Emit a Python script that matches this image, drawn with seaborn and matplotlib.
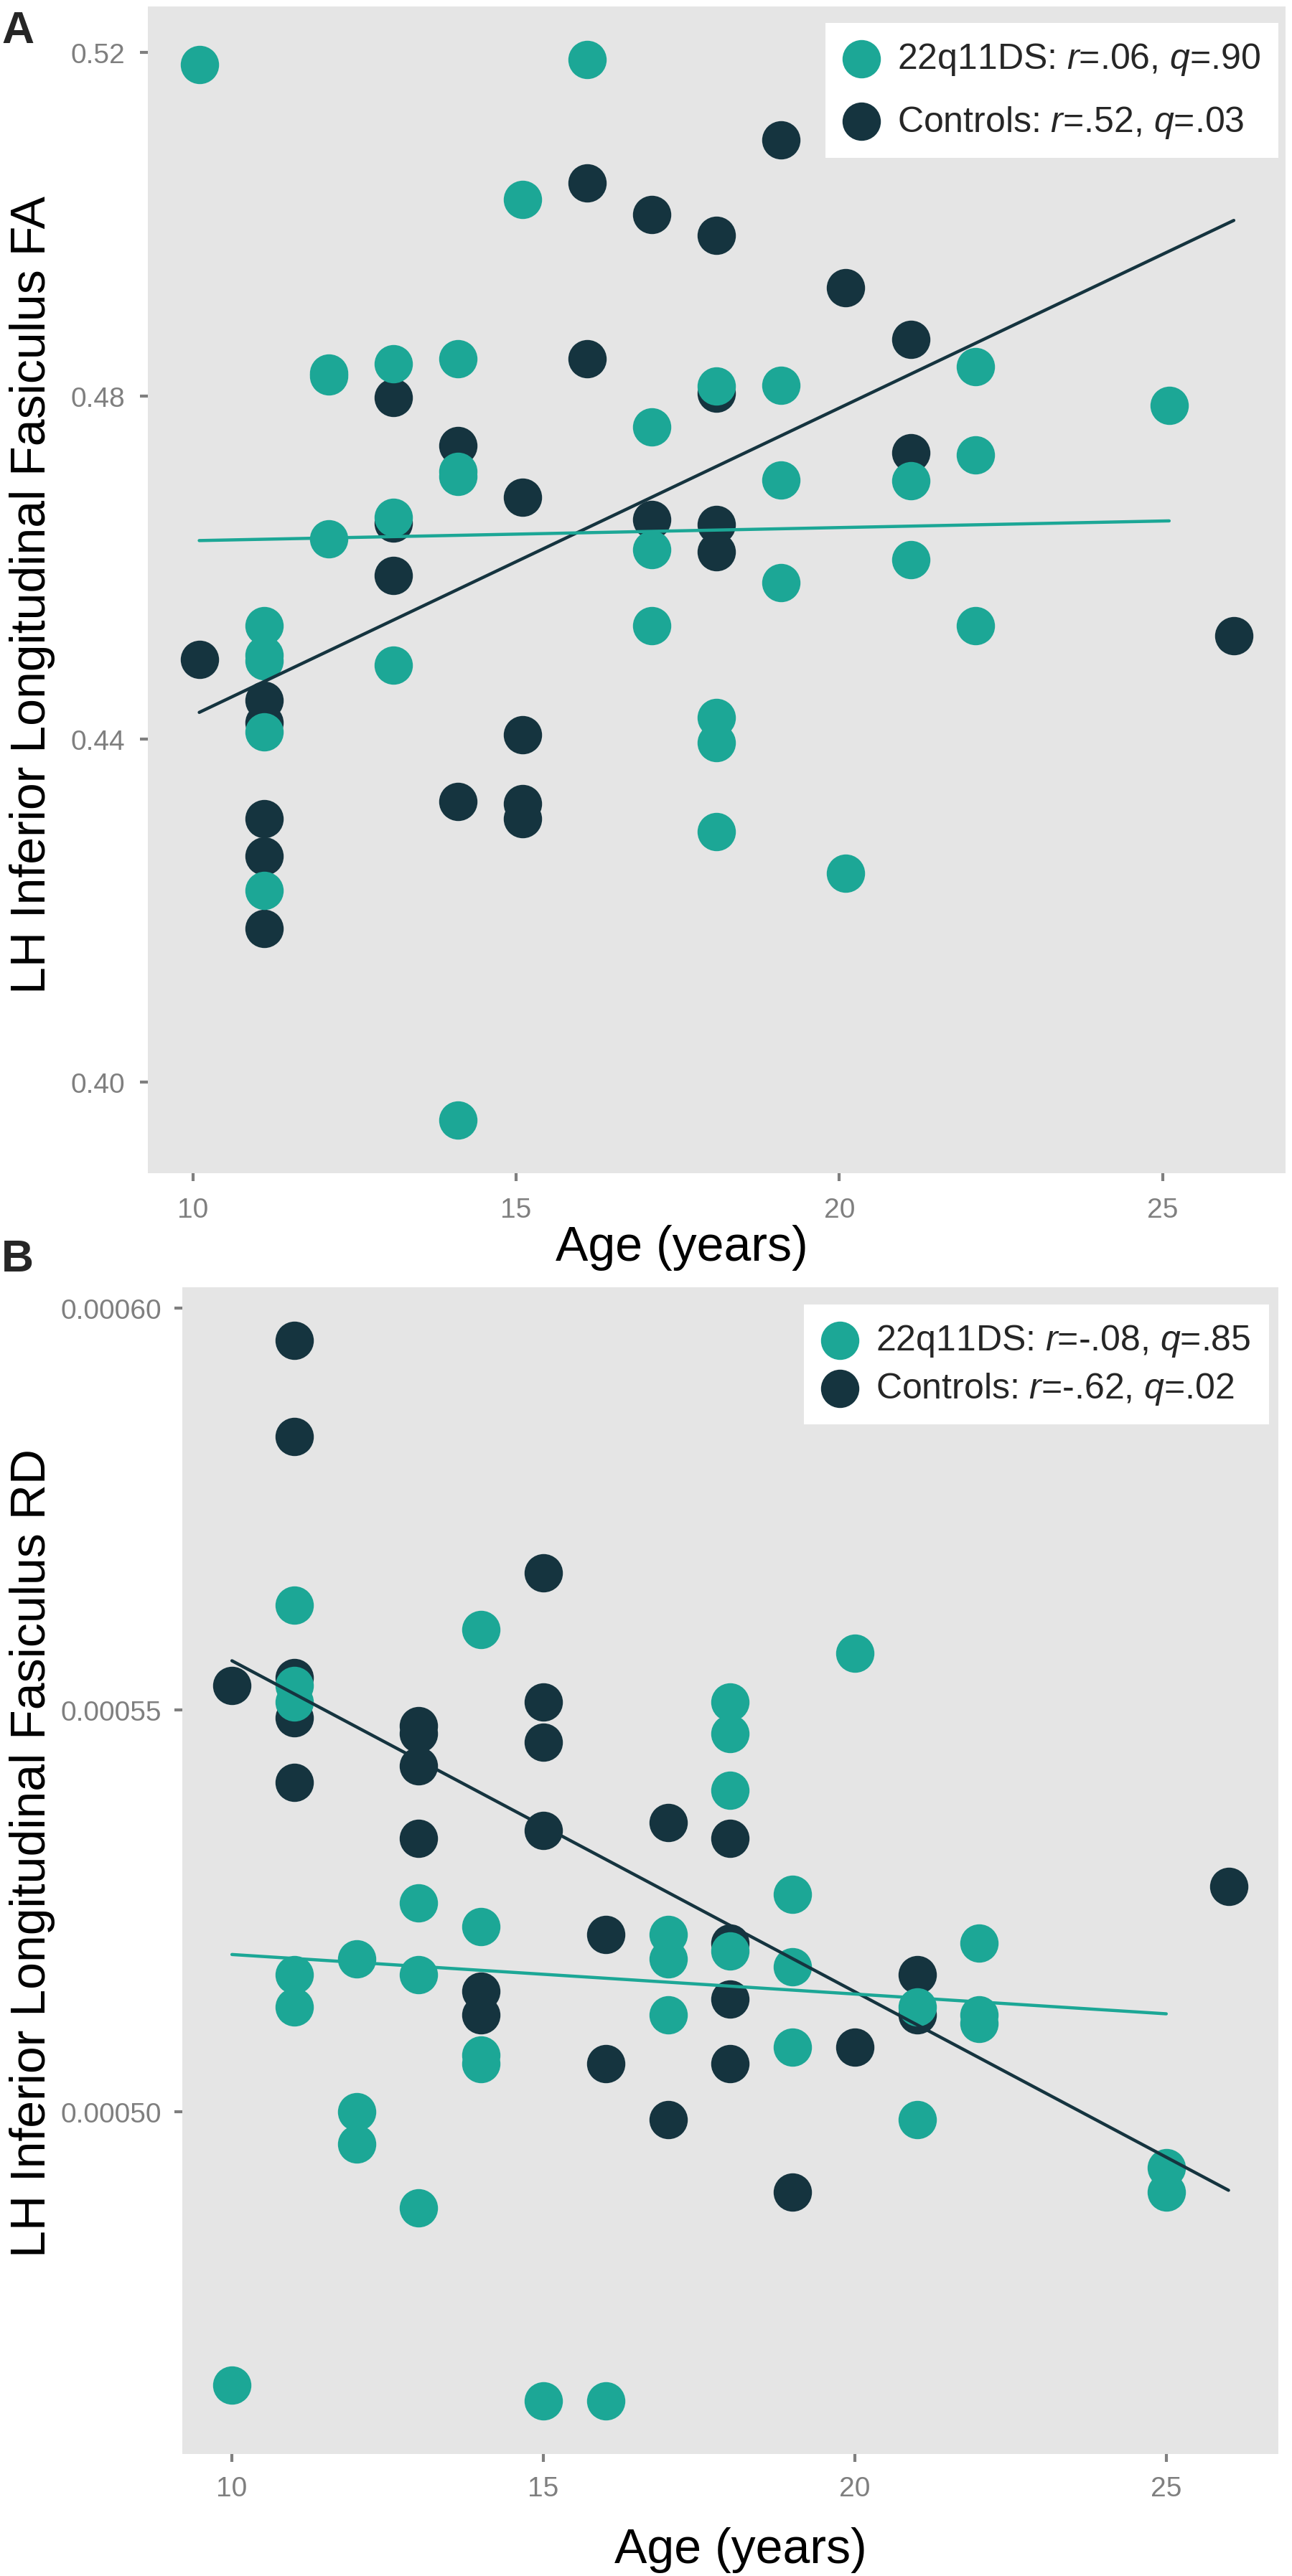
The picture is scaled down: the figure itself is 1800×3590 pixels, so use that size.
import matplotlib
matplotlib.use("Agg")
import matplotlib.pyplot as plt
from matplotlib.ticker import FormatStrFormatter
import seaborn as sns

TEAL = "#1ca796"
NAVY = "#15343f"
PANEL = "#e5e5e5"
GREY = "#7f7f7f"

# Panel A: FA by age
fa_22q_age = [10.1, 11.1, 11.1, 11.1, 11.1, 11.1, 12.1, 12.1, 12.1, 13.1, 13.1, 13.1,
              14.1, 14.1, 14.1, 14.1, 15.1, 16.1, 17.1, 17.1, 17.1, 18.1, 18.1, 18.1,
              18.1, 19.1, 19.1, 19.1, 20.1, 21.1, 21.1, 22.1, 22.1, 22.1, 25.1]
fa_22q_val = [0.5186, 0.4532, 0.4498, 0.4491, 0.4408, 0.4224, 0.4826, 0.4823, 0.4633,
              0.4837, 0.4658, 0.4486, 0.4843, 0.4712, 0.4706, 0.3956, 0.5029, 0.5192,
              0.4764, 0.4621, 0.4532, 0.4811, 0.4425, 0.4396, 0.4292, 0.4812, 0.4702,
              0.4582, 0.4244, 0.4701, 0.4609, 0.4834, 0.4731, 0.4532, 0.4789]
fa_ctrl_age = [10.1, 11.1, 11.1, 11.1, 11.1, 11.1, 13.1, 13.1, 13.1, 14.1, 14.1,
               15.1, 15.1, 15.1, 15.1, 16.1, 16.1, 17.1, 17.1, 18.1, 18.1, 18.1, 18.1,
               19.1, 20.1, 21.1, 21.1, 26.1]
fa_ctrl_val = [0.4493, 0.4445, 0.4419, 0.4307, 0.4264, 0.4179, 0.4798, 0.4652, 0.4591,
               0.4742, 0.4327, 0.4682, 0.4405, 0.4325, 0.4307, 0.5048, 0.4843, 0.5011,
               0.4656, 0.4987, 0.4803, 0.4650, 0.4618, 0.5098, 0.4926, 0.4866, 0.4734,
               0.4520]

# Panel B: RD by age
rd_22q_age = [10, 11, 11, 11, 11, 11, 12, 12, 12, 13, 13, 13, 14, 14, 14, 14, 15, 16,
              17, 17, 17, 18, 18, 18, 18, 19, 19, 19, 20, 21, 21, 22, 22, 22, 25, 25]
rd_22q_val = [0.000466, 0.000563, 0.000553, 0.000551, 0.000517, 0.000513, 0.000519,
              0.000500, 0.000496, 0.000526, 0.000517, 0.000488, 0.000560, 0.000523,
              0.000507, 0.000506, 0.000464, 0.000464, 0.000522, 0.000519, 0.000512,
              0.000551, 0.000547, 0.000540, 0.000520, 0.000527, 0.000518, 0.000508,
              0.000557, 0.000513, 0.000499, 0.000521, 0.000512, 0.000511, 0.000493,
              0.000490]
rd_ctrl_age = [10, 11, 11, 11, 11, 11, 13, 13, 13, 13, 14, 14, 15, 15, 15, 15, 16, 16,
               17, 17, 18, 18, 18, 18, 19, 20, 21, 21, 26]
rd_ctrl_val = [0.000553, 0.000596, 0.000584, 0.000554, 0.000549, 0.000541, 0.000548,
               0.000547, 0.000543, 0.000534, 0.000515, 0.000512, 0.000567, 0.000551,
               0.000546, 0.000535, 0.000522, 0.000506, 0.000536, 0.000499, 0.000534,
               0.000521, 0.000514, 0.000506, 0.000490, 0.000508, 0.000517, 0.000512,
               0.000528]

fa_labels = ["22q11DS: $r$=.06, $q$=.90", "Controls: $r$=.52, $q$=.03"]
rd_labels = ["22q11DS: $r$=-.08, $q$=.85", "Controls: $r$=-.62, $q$=.02"]
x_ticks = [10, 15, 20, 25]
fa_ticks = [0.40, 0.44, 0.48, 0.52]
rd_ticks = [0.00050, 0.00055, 0.00060]

sns.set_theme(style="white", rc={"axes.facecolor": PANEL})
plt.rcParams["font.family"] = ["Liberation Sans", "DejaVu Sans"]
plt.rcParams["mathtext.fontset"] = "custom"
plt.rcParams["mathtext.rm"] = "Liberation Sans"
plt.rcParams["mathtext.it"] = "Liberation Sans:italic"

W, H = 1800, 3591
fig = plt.figure(figsize=(W / 200, H / 200), dpi=200)


def px_box(left, top, right, bottom):
    return [left / W, 1 - bottom / H, (right - left) / W, (bottom - top) / H]


def panel(ax, ctrl, pat, labels, yticks, yfmt, ylabel, spacing, pads, lab_xy, leg_xy):
    for (age, val), col in [(ctrl, NAVY), (pat, TEAL)]:
        sns.scatterplot(x=age, y=val, color=col, s=370, linewidth=0, ax=ax,
                        zorder=2, label="g")
    for (age, val), col in [(ctrl, NAVY), (pat, TEAL)]:
        sns.regplot(x=age, y=val, scatter=False, ci=None, color=col, ax=ax,
                    line_kws={"lw": 1.6, "zorder": 3})
    ax.set_xticks(x_ticks)
    ax.set_yticks(yticks)
    ax.yaxis.set_major_formatter(FormatStrFormatter(yfmt))
    for s in ax.spines.values():
        s.set_visible(False)
    ax.tick_params(axis="both", which="major", bottom=True, left=True, length=4,
                   width=1.5, color=GREY, labelcolor=GREY, labelsize=14)
    ax.tick_params(axis="x", pad=pads[0])
    ax.tick_params(axis="y", pad=pads[1])
    ax.set_xlabel("Age (years)", fontsize=24.5, color="black")
    ax.set_ylabel(ylabel, fontsize=24.5, color="black")
    ax.xaxis.set_label_coords(*lab_xy[0])
    ax.yaxis.set_label_coords(*lab_xy[1])
    handles = ax.collections[:2]
    ax.legend([handles[1], handles[0]], labels, loc="upper right",
              bbox_to_anchor=leg_xy, borderaxespad=0, fontsize=18, frameon=True,
              fancybox=False, framealpha=1, facecolor="white", edgecolor="none",
              handlelength=1.0, handletextpad=0.5, borderpad=0.5,
              labelspacing=spacing, scatterpoints=1)


axA = fig.add_axes(px_box(205.5, 9.8, 1791, 1636))
panel(axA, (fa_ctrl_age, fa_ctrl_val), (fa_22q_age, fa_22q_val), fa_labels,
      fa_ticks, "%.2f", "LH Inferior Longitudinal Fasiculus FA", 0.75, (8.0, 7.4),
      ((0.4692, -0.0437), (-0.081, 0.4963)), (0.9937, 0.9857))

axB = fig.add_axes(px_box(253.7, 1794.7, 1781, 3420.9))
panel(axB, (rd_ctrl_age, rd_ctrl_val), (rd_22q_age, rd_22q_val), rd_labels,
      rd_ticks, "%.5f", "LH Inferior Longitudinal Fasiculus RD", 0.35, (6.7, 6.2),
      ((0.5094, -0.0622), (-0.1157, 0.5153)), (0.9915, 0.9851))

fig.text(2 / W, 1 - 60 / H, "A", fontsize=22.5, fontweight="bold", va="baseline")
fig.text(2 / W, 1 - 1772 / H, "B", fontsize=22.5, fontweight="bold", va="baseline")

fig.savefig("out.png", dpi=200)
